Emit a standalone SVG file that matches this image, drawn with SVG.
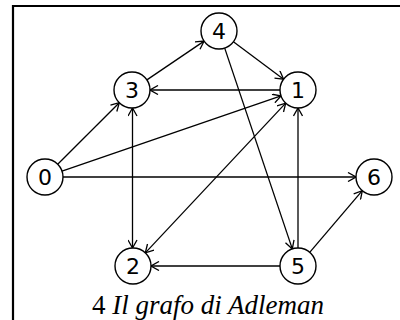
<svg xmlns="http://www.w3.org/2000/svg" width="400" height="320" viewBox="0 0 400 320">
<style>
.node circle{fill:#fff;stroke:#000;stroke-width:1.4}
.node text{font-family:"DejaVu Sans",sans-serif;font-size:22px;text-anchor:middle;fill:#000}
.edge{stroke:#000;stroke-width:1.3;fill:none;marker-end:url(#arr)}
.both{marker-start:url(#arr)}
.cap{font-family:"Liberation Serif",serif;font-size:27px;fill:#000}
</style>
<defs>
<marker id="arr" viewBox="0 0 10 10" refX="9" refY="5" markerWidth="10" markerHeight="10" markerUnits="userSpaceOnUse" orient="auto-start-reverse">
<path d="M1,0.5 L9,5 L1,9.5" fill="none" stroke="#000" stroke-width="1.3"/>
</marker>
</defs>
<rect width="400" height="320" fill="#fff"/>
<path d="M13,320 V6 H400" fill="none" stroke="#000" stroke-width="2.2"/>
<g id="connectors">
<line class="edge" x1="57.7" y1="164.3" x2="119.3" y2="102.7"/>
<line class="edge" x1="62" y1="171.1" x2="281" y2="95.9"/>
<line class="edge" x1="63" y1="177" x2="356" y2="177"/>
<line class="edge" x1="146.9" y1="79.9" x2="204.1" y2="41.1"/>
<line class="edge" x1="233.4" y1="41.8" x2="283.6" y2="79.2"/>
<line class="edge" x1="280" y1="90" x2="150" y2="90"/>
<line class="edge" x1="224.7" y1="48.1" x2="292.3" y2="248.9"/>
<line class="edge both" x1="132.5" y1="108" x2="132.5" y2="248"/>
<line class="edge both" x1="285.7" y1="103.1" x2="145.3" y2="252.9"/>
<line class="edge" x1="298" y1="248" x2="298" y2="108"/>
<line class="edge" x1="280" y1="266" x2="151" y2="266"/>
<line class="edge" x1="309.7" y1="252.3" x2="362.3" y2="190.7"/>
</g>
<g id="n0" class="node"><circle cx="45" cy="177" r="18"/><text x="45" y="185">0</text></g>
<g id="n1" class="node"><circle cx="298" cy="90" r="18"/><text x="298" y="98">1</text></g>
<g id="n2" class="node"><circle cx="133" cy="266" r="18"/><text x="133" y="274">2</text></g>
<g id="n3" class="node"><circle cx="132" cy="90" r="18"/><text x="132" y="98">3</text></g>
<g id="n4" class="node"><circle cx="219" cy="31" r="18"/><text x="219" y="39">4</text></g>
<g id="n5" class="node"><circle cx="298" cy="266" r="18"/><text x="298" y="274">5</text></g>
<g id="n6" class="node"><circle cx="374" cy="177" r="18"/><text x="374" y="185">6</text></g>
<text class="cap" x="92" y="314">4 <tspan font-style="italic">Il grafo di Adleman</tspan></text>
</svg>
